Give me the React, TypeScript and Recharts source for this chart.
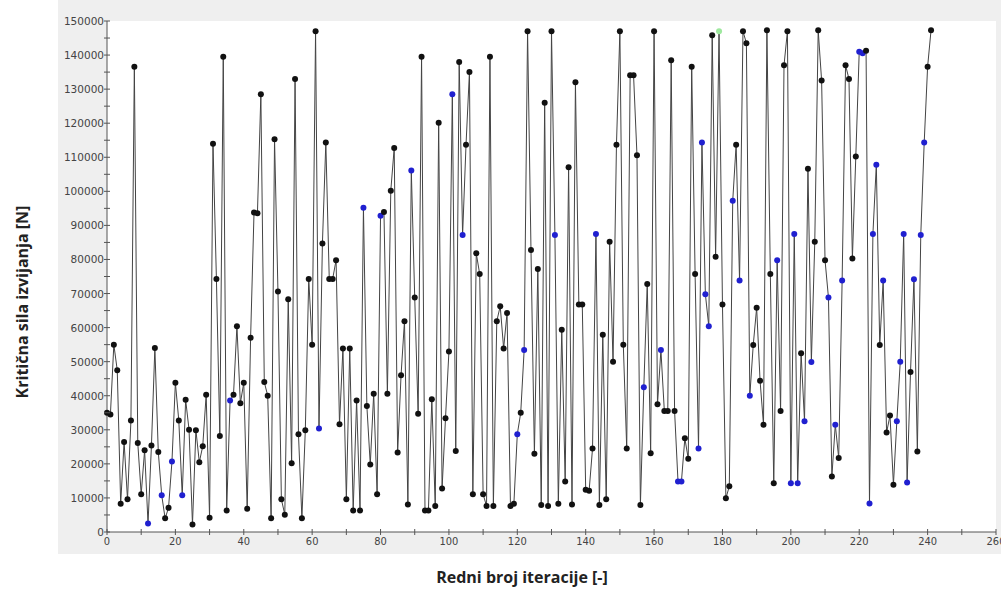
import React from "react";
import { LineChart, Line, XAxis, YAxis, CartesianGrid } from "recharts";

// critical buckling force per iteration
const forces: number[] = [
  35000, 34500, 55000, 47500, 8300, 26400, 9600, 32700, 136600, 26100,
  11100, 24000, 2500, 25400, 54000, 23500, 10800, 4000, 7100, 20700,
  43800, 32700, 10800, 38800, 30000, 2200, 29900, 20500, 25200, 40300,
  4200, 114000, 74300, 28200, 139500, 6300, 38600, 40300, 60400, 37800,
  43800, 6800, 57000, 93800, 93600, 128500, 44000, 40000, 4000, 115300,
  70600, 9600, 5100, 68300, 20200, 133000, 28700, 4000, 29900, 74300,
  55000, 147000, 30400, 84700, 114300, 74300, 74300, 79800, 31600, 53900,
  9600, 53900, 6300, 38600, 6300, 95200, 37000, 19800, 40600, 11100,
  92800, 93900, 40600, 100200, 112700, 23300, 46000, 61900, 8100, 106100,
  68800, 34700, 139500, 6300, 6300, 39000, 7600, 120100, 12800, 33400,
  53000, 128500, 23800, 138000, 87200, 113700, 135000, 11100, 81800, 75700,
  11100, 7600, 139500, 7600, 61900, 66300, 53900, 64300, 7600, 8300,
  28700, 35000, 53400, 147000, 82800, 23000, 77200, 7900, 126000, 7600,
  147000, 87200, 8300, 59400, 14800, 107100, 8100, 132000, 66800, 66800,
  12400, 12100, 24500, 87500, 7900, 57900, 9600, 85200, 50000, 113700,
  147000, 55000, 24500, 134100, 134100, 110600, 7900, 42500, 72800, 23100,
  147000, 37500, 53400, 35500, 35500, 138500, 35500, 14800, 14800, 27500,
  21500, 136600, 75700, 24500, 114300, 69800, 60400, 145800, 80800, 147000,
  66800, 9900, 13400, 97200, 113700, 73800, 147000, 143500, 40000, 54900,
  65800, 44400, 31500, 147300, 75700, 14300, 79800, 35500, 137000, 147000,
  14300, 87500, 14300, 52500, 32500, 106600, 49900, 85200, 147300, 132500,
  79800, 68800, 16300, 31500, 21700, 73800, 137000, 133000, 80300, 110200,
  141000, 140500, 141300, 8400, 87500, 107800, 54900, 73800, 29200, 34200,
  13900, 32500, 50000, 87500, 14500, 47000, 74200, 23600, 87200, 114300,
  136600, 147300,
];

// iterations drawn with a blue marker / the single green marker
const bluePoints: number[] = [
  12, 16, 19, 22, 36, 62, 75, 80, 89, 101, 104, 120, 122, 131, 143, 157, 162,
  167, 168, 173, 174, 175, 176, 183, 185, 188, 196, 200, 201, 202, 204, 206,
  211, 213, 215, 220, 221, 223, 224, 225, 227, 231, 232, 233, 234, 236, 238, 239,
];
const greenPoints: number[] = [179];

const xTicks = [
  0, 10, 20, 30, 40, 50, 60, 70, 80, 90, 100, 110, 120, 130, 140, 150, 160,
  170, 180, 190, 200, 210, 220, 230, 240, 250, 260,
];
const xLabels = [0, 20, 40, 60, 80, 100, 120, 140, 160, 180, 200, 220, 240, 260];

const yTicks = [
  0, 5000, 10000, 15000, 20000, 25000, 30000, 35000, 40000, 45000, 50000,
  55000, 60000, 65000, 70000, 75000, 80000, 85000, 90000, 95000, 100000,
  105000, 110000, 115000, 120000, 125000, 130000, 135000, 140000, 145000, 150000,
];
const yLabels = [
  0, 10000, 20000, 30000, 40000, 50000, 60000, 70000, 80000, 90000, 100000,
  110000, 120000, 130000, 140000, 150000,
];

const data = forces.map((force, iter) => ({ iter, force }));

const TICK_SIZE = 3;
const TICK_MARGIN = 4;

const renderDot = (props: any) => {
  const { cx, cy, payload } = props;
  const it = payload.iter;
  let fill = "#111111";
  if (bluePoints.includes(it)) fill = "#2020d0";
  if (greenPoints.includes(it)) fill = "#9ee89e";
  return <circle key={`dot-${it}`} cx={cx} cy={cy} r={3} fill={fill} stroke="none" />;
};

// ticks cross the axis line like in the original plot
const XTick = (props: any) => {
  const { x, y, payload } = props;
  const axisY = y - TICK_SIZE - TICK_MARGIN;
  const v = payload.value;
  return (
    <g>
      <line x1={x} x2={x} y1={axisY - 3} y2={axisY + 3} stroke="#555" />
      {xLabels.includes(v) && (
        <text
          x={x}
          y={axisY + 13}
          textAnchor="middle"
          fontSize={11}
          fill="#444"
          fontFamily="'Liberation Sans Narrow', 'DejaVu Sans Condensed', sans-serif"
        >
          {v}
        </text>
      )}
    </g>
  );
};

const YTick = (props: any) => {
  const { x, y, payload } = props;
  const axisX = x + TICK_SIZE + TICK_MARGIN;
  const v = payload.value;
  return (
    <g>
      <line x1={axisX - 3} x2={axisX + 3} y1={y} y2={y} stroke="#555" />
      {yLabels.includes(v) && (
        <text
          x={axisX - 3}
          y={y + 4}
          textAnchor="end"
          fontSize={10.5}
          fill="#444"
          fontFamily="'DejaVu Sans', sans-serif"
        >
          {v}
        </text>
      )}
    </g>
  );
};

const App: React.FC = () => {
  return (
    <div
      style={{
        position: "fixed",
        left: 0,
        top: 0,
        width: 1001,
        height: 590,
        background: "#ffffff",
        overflow: "hidden",
      }}
    >
      <div
        style={{
          position: "absolute",
          left: 58,
          top: 0,
          width: 943,
          height: 554,
          background: "#efefef",
        }}
      />
      <div style={{ position: "absolute", left: 0, top: 0 }}>
        <LineChart
          width={1001}
          height={590}
          data={data}
          margin={{ top: 21, right: 5, bottom: 38, left: 57 }}
        >
          <CartesianGrid horizontal={false} vertical={false} fill="#ffffff" />
          <XAxis
            type="number"
            dataKey="iter"
            domain={[0, 260]}
            ticks={xTicks}
            interval={0}
            height={20}
            tickSize={TICK_SIZE}
            tickMargin={TICK_MARGIN}
            tickLine={false}
            stroke="#555"
            tick={<XTick />}
          />
          <YAxis
            type="number"
            domain={[0, 150000]}
            ticks={yTicks}
            interval={0}
            width={50}
            tickSize={TICK_SIZE}
            tickMargin={TICK_MARGIN}
            tickLine={false}
            stroke="#555"
            tick={<YTick />}
          />
          <Line
            type="linear"
            dataKey="force"
            stroke="#444444"
            strokeWidth={1}
            dot={renderDot}
            activeDot={false}
            isAnimationActive={false}
          />
        </LineChart>
      </div>
      <div
        style={{
          position: "absolute",
          left: 22 - 160,
          top: 302 - 12,
          width: 320,
          height: 24,
          lineHeight: "24px",
          textAlign: "center",
          transform: "rotate(-90deg)",
          fontFamily: "'Open Sans', sans-serif",
          fontWeight: 700,
          fontSize: 16,
          color: "#222",
          whiteSpace: "nowrap",
        }}
      >
        Kritična sila izvijanja [N]
      </div>
      <div
        style={{
          position: "absolute",
          left: 522 - 160,
          top: 577 - 12,
          width: 320,
          height: 24,
          lineHeight: "24px",
          textAlign: "center",
          fontFamily: "'Open Sans', sans-serif",
          fontWeight: 700,
          fontSize: 16,
          color: "#222",
          whiteSpace: "nowrap",
        }}
      >
        Redni broj iteracije [-]
      </div>
    </div>
  );
};

export default App;
